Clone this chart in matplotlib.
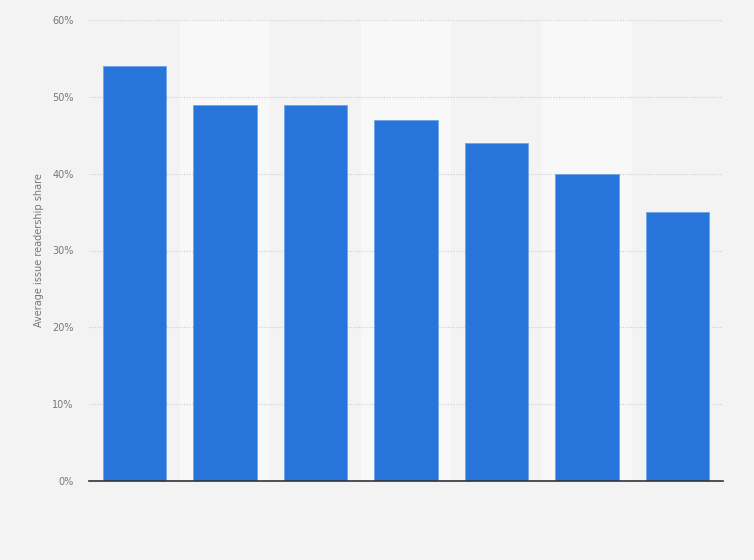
import matplotlib
matplotlib.use("Agg")
import matplotlib.pyplot as plt
from matplotlib.ticker import FuncFormatter

categories = ["1", "2", "3", "4", "5", "6", "7"]
values = [54, 49, 49, 47, 44, 40, 35]
yticks = [0, 10, 20, 30, 40, 50, 60]

fig = plt.figure(figsize=(7.54, 5.6), dpi=100)
fig.patch.set_facecolor("#f3f3f3")
ax = fig.add_axes([89/754, 1-481/560, (723-89)/754, (481-20)/560])
ax.set_facecolor("#f3f3f3")

x = list(range(len(categories)))
for i in x:
    if i % 2 == 1:
        ax.axvspan(i-0.5, i+0.5, color="#f8f8f8", zorder=0, lw=0)

ax.bar(x, values, width=0.7, color="#2775db", edgecolor="#6fa3e8", linewidth=0.6, zorder=3)

ax.set_xlim(-0.5, len(categories)-0.5)
ax.set_ylim(0, 60)
ax.set_yticks(yticks)
ax.yaxis.set_major_formatter(FuncFormatter(lambda v, p: f"{int(v)}%"))
ax.set_xticks([])
ax.tick_params(axis="y", length=0, labelsize=7, labelcolor="#777777", pad=11)
ax.grid(axis="y", color="#cccccc", linestyle=(0, (1, 1.5)), linewidth=0.8, zorder=1)
for s in ["top", "right", "left"]:
    ax.spines[s].set_visible(False)
ax.spines["bottom"].set_color("#333333")
ax.spines["bottom"].set_linewidth(1.2)
ax.spines["bottom"].set_zorder(4)

ax.set_ylabel("Average issue readership share", fontsize=7, color="#777777", labelpad=6)

fig.savefig("out.png", dpi=100, facecolor=fig.get_facecolor())
